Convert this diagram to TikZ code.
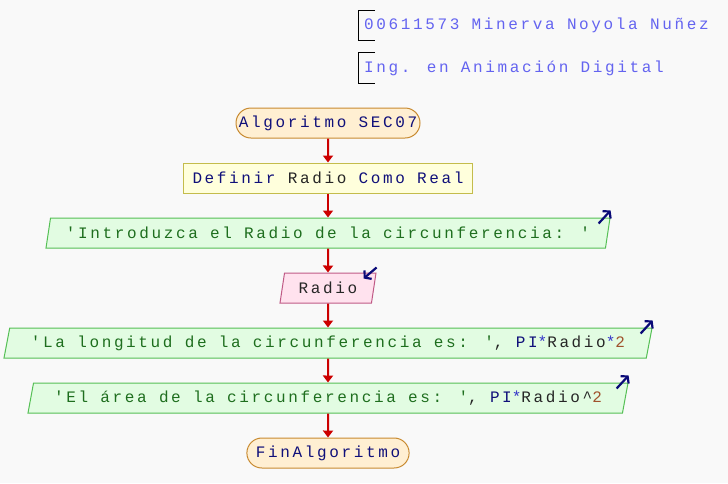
\documentclass[tikz,border=0pt]{standalone}
\usepackage{fontspec}
\usepackage{tikz}
\usetikzlibrary{shapes.geometric,shapes.misc,arrows.meta,positioning,calc}
\newfontfamily\psefont{Liberation Mono}[LetterSpace=16.5,Ligatures=TeXOff]
\definecolor{pse_back}{HTML}{F9F9F9}
\definecolor{pse_arrow}{HTML}{CC0000}
\definecolor{pse_kw}{HTML}{10107A}
\definecolor{pse_str}{HTML}{1E6E1E}
\definecolor{pse_num}{HTML}{A0522D}
\definecolor{pse_op}{HTML}{3535C8}
\definecolor{pse_head}{HTML}{6464F0}
\definecolor{pse_icon}{HTML}{0A0A78}
\definecolor{term_fill}{HTML}{FFEFD2}
\definecolor{term_line}{HTML}{C88A30}
\definecolor{proc_fill}{HTML}{FFFFDC}
\definecolor{proc_line}{HTML}{C4BC4C}
\definecolor{out_fill}{HTML}{E2FCE2}
\definecolor{out_line}{HTML}{55C055}
\definecolor{in_fill}{HTML}{FFE2EE}
\definecolor{in_line}{HTML}{C05A86}
\tikzset{flow/.style={draw=pse_arrow,line width=2pt,-{Triangle[width=10pt,length=7pt]}},
icon/.style={draw=pse_icon,line width=2.2pt,-{Straight Barb[length=4.5pt,width=11pt]}}}

\begin{document}
\begin{tikzpicture}[x=1pt,y=1pt,font=\psefont\fontsize{16}{18}\selectfont,
node distance=55pt,on grid,
base/.style={minimum height=30pt,inner ysep=0pt,inner xsep=7pt,line width=1pt,text=black!85},
term/.style={base,rounded rectangle,draw=term_line,fill=term_fill,text=pse_kw},
proc/.style={base,rectangle,draw=proc_line,fill=proc_fill},
slant/.style={base,trapezium,trapezium left angle=69,trapezium right angle=111,trapezium stretches body},
outp/.style={slant,draw=out_line,fill=out_fill},
inp/.style={slant,draw=in_line,fill=in_fill},
head/.style={anchor=west,minimum height=30pt,inner ysep=0pt,inner xsep=6pt,text=pse_head}]
\fill[pse_back] (0,0) rectangle (728,-483);
\useasboundingbox (0,0) rectangle (728,-483);
% header
\node[head] (alumno) at (358,-25.5) {00611573 Minerva Noyola Nuñez};
\node[head] (carrera) at (358,-68) {Ing. en Animación Digital};
\foreach \n in {alumno,carrera}
{\draw[line width=1pt] ($(\n.north west)+(17,0)$) -- (\n.north west) -- (\n.south west) -- ++(17,0);}
% diagram
\node[term,minimum width=198pt] (alg) at (328,-123) {Algoritmo SEC07};
\node[proc,minimum width=289pt,below=of alg] (defn) {\textcolor{pse_kw}{Definir} Radio \textcolor{pse_kw}{Como Real}};
\node[outp,minimum width=564pt,below=of defn] (msg) {\textcolor{pse_str}{'Introduzca el Radio de la circunferencia: '}};
\node[inp,minimum width=96pt,below=of msg] (radio) {Radio};
\node[outp,minimum width=648pt,below=of radio] (longi) {\textcolor{pse_str}{'La longitud de la circunferencia es: '}, \textcolor{pse_kw}{PI}\textcolor{pse_op}{*}Radio\textcolor{pse_op}{*}\textcolor{pse_num}{2}};
\node[outp,minimum width=600pt,below=of longi] (area) {\textcolor{pse_str}{'El área de la circunferencia es: '}, \textcolor{pse_kw}{PI}\textcolor{pse_op}{*}Radio\textasciicircum\textcolor{pse_num}{2}};
\node[term,minimum width=160pt,below=of area] (fin) {FinAlgoritmo};
\draw[flow] (alg) -- (defn);
\draw[flow] (defn) -- (msg);
\draw[flow] (msg) -- (radio);
\draw[flow] (radio) -- (longi);
\draw[flow] (longi) -- (area);
\draw[flow] (area) -- (fin);
% io marks
\foreach \n in {msg,longi,area}
{\draw[icon] ($(\n.top right corner)+(-12,-6)$) -- ($(\n.top right corner)+(0,7)$);}
\draw[icon] ($(radio.top right corner)+(0,5)$) -- ($(radio.top right corner)+(-13,-6)$);
\end{tikzpicture}
\end{document}
